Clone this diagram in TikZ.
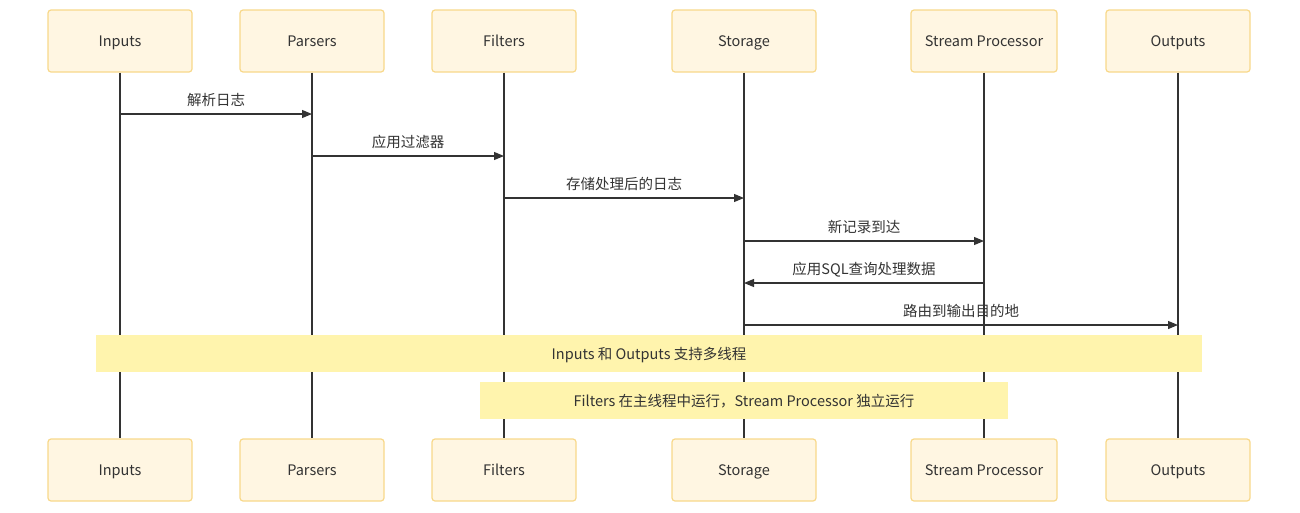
\documentclass[tikz,border=0pt]{standalone}
\usepackage{fontspec}
\setmainfont{Noto Sans CJK SC}
\usetikzlibrary{arrows.meta}
\definecolor{actorfill}{HTML}{FFF6E2}
\definecolor{actorline}{HTML}{F8D88A}
\definecolor{notefill}{HTML}{FFF4AD}
\definecolor{lineclr}{HTML}{333333}
\tikzset{
  actor/.style = {rectangle, rounded corners=3pt, draw=actorline, line width=1.2pt,
    fill=actorfill, minimum width=144pt, minimum height=62pt, font=\fontsize{14.5}{16}\selectfont,
    text=lineclr, text height=12.5pt, text depth=1.5pt},
  note/.style = {rectangle, fill=notefill, font=\fontsize{14.5}{16}\selectfont, text=lineclr,
    text height=12.5pt, text depth=1.5pt},
  msg/.style = {draw=lineclr, line width=1.1pt, -{Triangle[length=10pt,width=8pt]}},
  life/.style = {draw=lineclr, line width=1.6pt},
  lbl/.style = {above=3pt, font=\fontsize{14.5}{16}\selectfont, text=lineclr, inner sep=1pt,
    text height=10.5pt, text depth=3.5pt}
}
\begin{document}
\begin{tikzpicture}[x=1pt, y=-1pt]
\useasboundingbox (0,0) rectangle (1300,512);
% actors, top and bottom
\begin{scope}[every node/.style = {actor}]
\node (InT) at (120, 41) {Inputs};
\node (PaT) at (312, 41) {Parsers};
\node (FiT) at (504, 41) {Filters};
\node (StT) at (744, 41) {Storage};
\node[minimum width=146pt] (SpT) at (984, 41) {Stream Processor};
\node (OuT) at (1178, 41) {Outputs};
\node (InB) at (120, 470) {Inputs};
\node (PaB) at (312, 470) {Parsers};
\node (FiB) at (504, 470) {Filters};
\node (StB) at (744, 470) {Storage};
\node[minimum width=146pt] (SpB) at (984, 470) {Stream Processor};
\node (OuB) at (1178, 470) {Outputs};
\end{scope}
% lifelines
\begin{scope}[every path/.style = {life}]
\path (InT) -- (InB);
\path (PaT) -- (PaB);
\path (FiT) -- (FiB);
\path (StT) -- (StB);
\path (SpT) -- (SpB);
\path (OuT) -- (OuB);
\end{scope}
% message points
\coordinate (m1a) at (120, 114); \coordinate (m1b) at (312, 114);
\coordinate (m2a) at (312, 156); \coordinate (m2b) at (504, 156);
\coordinate (m3a) at (504, 198); \coordinate (m3b) at (744, 198);
\coordinate (m4a) at (744, 241); \coordinate (m4b) at (984, 241);
\coordinate (m5a) at (984, 283); \coordinate (m5b) at (744, 283);
\coordinate (m6a) at (744, 325); \coordinate (m6b) at (1178, 325);
\begin{scope}[every edge/.style = {msg}]
\path (m1a) edge node[lbl] {解析日志} (m1b);
\path (m2a) edge node[lbl] {应用过滤器} (m2b);
\path (m3a) edge node[lbl] {存储处理后的日志} (m3b);
\path (m4a) edge node[lbl] {新记录到达} (m4b);
\path (m5a) edge node[lbl] {应用SQL查询处理数据} (m5b);
\path (m6a) edge node[lbl] {路由到输出目的地} (m6b);
\end{scope}
% notes
\node[note, minimum width=1106pt, minimum height=37pt] (note1) at (649, 353.5) {Inputs 和 Outputs 支持多线程};
\node[note, minimum width=528pt, minimum height=37pt] (note2) at (744, 400.5) {Filters 在主线程中运行，Stream Processor 独立运行};
\end{tikzpicture}
\end{document}
